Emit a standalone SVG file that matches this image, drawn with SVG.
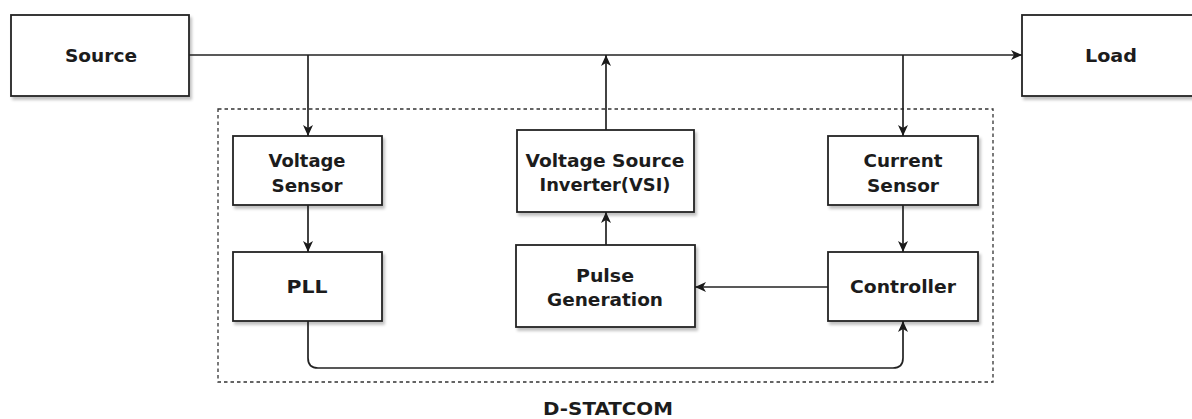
<svg xmlns="http://www.w3.org/2000/svg" width="1192" height="419" viewBox="0 0 1192 419">
<defs>
<filter id="sh" x="-10%" y="-10%" width="130%" height="140%">
<feGaussianBlur in="SourceAlpha" stdDeviation="1.5"/>
<feOffset dx="2" dy="3" result="b"/>
<feComponentTransfer><feFuncA type="linear" slope="0.25"/></feComponentTransfer>
<feMerge><feMergeNode/><feMergeNode in="SourceGraphic"/></feMerge>
</filter>
<marker id="arr" markerUnits="userSpaceOnUse" markerWidth="14" markerHeight="12" refX="12" refY="6" orient="auto">
<path d="M1,1 L12,6 L1,11 L4,6 Z" fill="#1a1a1a"/>
</marker>
<style>
.box{fill:#fff;stroke:#222;stroke-width:1.8;filter:url(#sh)}
.t{font-family:"DejaVu Sans","Liberation Sans",sans-serif;font-weight:bold;font-size:17px;fill:#1c1c1c;text-anchor:middle}
.c{fill:none;stroke:#222;stroke-width:1.7;marker-end:url(#arr)}
</style>
</defs>
<rect width="1192" height="419" fill="#fff"/>

<g id="dstatcom">
<rect x="218" y="109" width="775" height="273" fill="none" stroke="#333" stroke-width="1.3" stroke-dasharray="3.5,3"/>
<text class="t" x="608" y="415" textLength="130" lengthAdjust="spacingAndGlyphs">D-STATCOM</text>
</g>

<g id="source">
<rect class="box" x="11" y="15" width="178" height="81"/>
<text class="t" x="101" y="62" textLength="72" lengthAdjust="spacingAndGlyphs">Source</text>
</g>
<g id="load">
<rect class="box" x="1022" y="15" width="180" height="81"/>
<text class="t" x="1111" y="62" textLength="52" lengthAdjust="spacingAndGlyphs">Load</text>
</g>
<g id="voltage-sensor">
<rect class="box" x="233" y="136" width="149" height="69"/>
<text class="t" x="307" y="167" textLength="77" lengthAdjust="spacingAndGlyphs">Voltage</text>
<text class="t" x="307" y="192" textLength="71" lengthAdjust="spacingAndGlyphs">Sensor</text>
</g>
<g id="vsi">
<rect class="box" x="517" y="130" width="177" height="82"/>
<text class="t" x="605" y="167" textLength="159" lengthAdjust="spacingAndGlyphs">Voltage Source</text>
<text class="t" x="605" y="191" textLength="131" lengthAdjust="spacingAndGlyphs">Inverter(VSI)</text>
</g>
<g id="current-sensor">
<rect class="box" x="828" y="136" width="150" height="69"/>
<text class="t" x="903" y="167" textLength="79" lengthAdjust="spacingAndGlyphs">Current</text>
<text class="t" x="903" y="192" textLength="72" lengthAdjust="spacingAndGlyphs">Sensor</text>
</g>
<g id="pll">
<rect class="box" x="233" y="252" width="149" height="69"/>
<text class="t" x="307" y="293" textLength="41" lengthAdjust="spacingAndGlyphs">PLL</text>
</g>
<g id="pulse-generation">
<rect class="box" x="516" y="245" width="179" height="82"/>
<text class="t" x="605" y="282" textLength="58" lengthAdjust="spacingAndGlyphs">Pulse</text>
<text class="t" x="605" y="306" textLength="116" lengthAdjust="spacingAndGlyphs">Generation</text>
</g>
<g id="controller">
<rect class="box" x="828" y="252" width="150" height="69"/>
<text class="t" x="903" y="293" textLength="106" lengthAdjust="spacingAndGlyphs">Controller</text>
</g>

<g id="connectors">
<path class="c" d="M189,55 H1022"/>
<path class="c" d="M308,55 V136"/>
<path class="c" d="M903,55 V136"/>
<path class="c" d="M606,130 V55"/>
<path class="c" d="M308,205 V252"/>
<path class="c" d="M903,205 V252"/>
<path class="c" d="M606,245 V212"/>
<path class="c" d="M828,287 H695"/>
<path class="c" d="M308,321 V358 Q308,368 318,368 H893 Q903,368 903,358 V321"/>
</g>
</svg>
